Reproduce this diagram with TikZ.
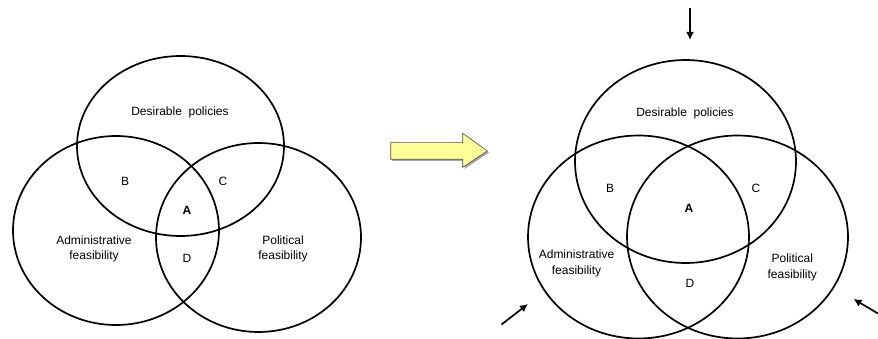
\documentclass[tikz,border=0pt]{standalone}
\usepackage{fontspec}
\setmainfont{Liberation Sans}
\usetikzlibrary{shapes.geometric,arrows.meta}
\tikzset{
  venn/.style={ellipse, draw=black, line width=1.7pt, inner sep=0pt},
  lbl/.style={font=\fontsize{12}{15.5}\selectfont, inner sep=0pt, anchor=base},
  lbl2/.style={font=\fontsize{12}{15.5}\selectfont, inner sep=0pt, align=center, anchor=center},
  pointer/.style={line width=1.7pt, -{Latex[length=8pt,width=8pt]}},
}
\begin{document}
\begin{tikzpicture}[x=1pt,y=-1pt]
\useasboundingbox (0,0) rectangle (878,339);
% left diagram
\node[venn, minimum width=207pt, minimum height=180pt] (Ltop) at (180.5,146) {};
\node[venn, minimum width=206pt, minimum height=189pt] (Lleft) at (116,230.5) {};
\node[venn, minimum width=205pt, minimum height=189pt] (Lright) at (258.5,237.5) {};
\node[lbl] (Ldes) at (180,115.3) {Desirable\ \ policies};
\node[lbl] (LB) at (125,185.3) {B};
\node[lbl] (LC) at (223,185.3) {C};
\node[lbl, font=\fontsize{12}{15.5}\selectfont\bfseries] (LA) at (187,214.3) {A};
\node[lbl] (LD) at (187,262.3) {D};
\node[lbl2] (Ladm) at (94,249) {Administrative\\feasibility};
\node[lbl2] (Lpol) at (283,249) {Political\\feasibility};
% yellow arrow
\fill[gray!70] (392,144.5) -- (464.5,144.5) -- (464.5,135) -- (489,152.5) -- (464.5,169) -- (464.5,161) -- (392,161) -- cycle;
\filldraw[fill={rgb,255:red,255;green,255;blue,153}, draw=black!70, line width=0.6pt]
  (390.7,142.7) -- (462.7,142.7) -- (462.7,133.3) -- (487.3,151) -- (462.7,167.3) -- (462.7,159.3) -- (390.7,159.3) -- cycle;
% right diagram
\node[venn, minimum width=221pt, minimum height=203pt] (Rtop) at (685.5,161.5) {};
\node[venn, minimum width=221pt, minimum height=203pt] (Rleft) at (638.5,237) {};
\node[venn, minimum width=221pt, minimum height=203pt] (Rright) at (737.5,237) {};
\node[lbl] (Rdes) at (685,116.3) {Desirable\ \ policies};
\node[lbl] (RB) at (610,192.3) {B};
\node[lbl] (RC) at (756,192.3) {C};
\node[lbl, font=\fontsize{12}{15.5}\selectfont\bfseries] (RA) at (689,212.3) {A};
\node[lbl] (RD) at (690,287.3) {D};
\node[lbl2] (Radm) at (576.5,263.5) {Administrative\\feasibility};
\node[lbl2] (Rpol) at (792.3,267.5) {Political\\feasibility};
% pressure arrows
\coordinate (t1) at (690,8);
\coordinate (t2) at (690,40);
\coordinate (l1) at (501.5,324.5);
\coordinate (l2) at (528,304);
\coordinate (r1) at (878,313.5);
\coordinate (r2) at (853.5,299);
\draw[pointer] (t1) -- (t2);
\draw[pointer] (l1) -- (l2);
\draw[pointer] (r1) -- (r2);
\end{tikzpicture}
\end{document}
